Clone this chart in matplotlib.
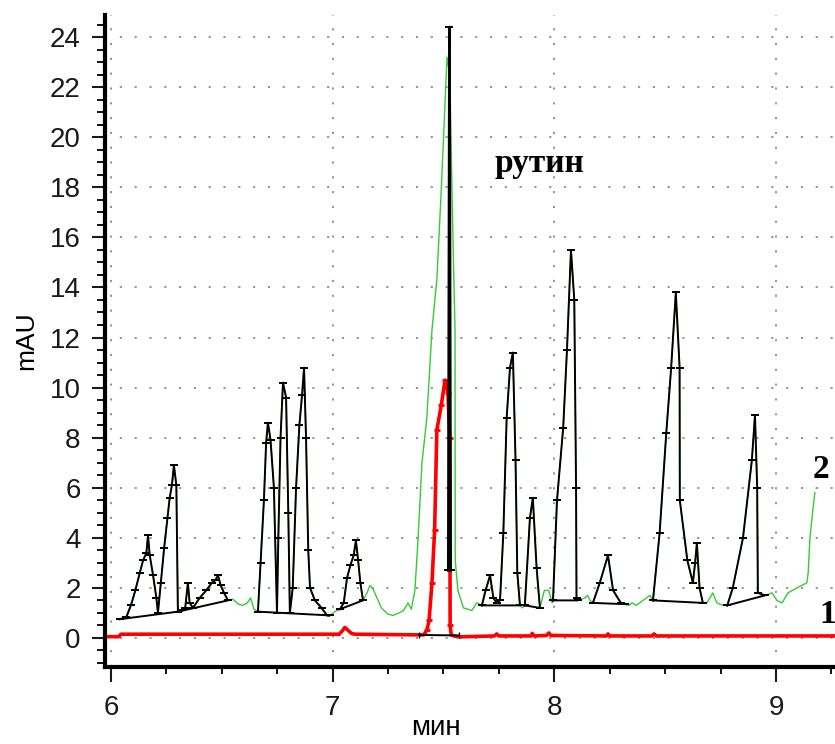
import numpy as np
import matplotlib.pyplot as plt
from matplotlib.ticker import MultipleLocator

# хроматограмма 2 (зелёная): время, мин / сигнал, mAU
t2 = [6.041, 6.07, 6.09, 6.11, 6.13, 6.145, 6.16, 6.167, 6.175, 6.19, 6.205, 6.212,
      6.225, 6.24, 6.255, 6.265, 6.275, 6.284, 6.295, 6.302, 6.32, 6.335, 6.347, 6.355,
      6.37, 6.40, 6.43, 6.455, 6.47, 6.483, 6.495, 6.51, 6.528, 6.55, 6.575, 6.595,
      6.615, 6.63, 6.645, 6.663, 6.675, 6.69, 6.70, 6.708, 6.72, 6.735, 6.749, 6.755,
      6.765, 6.776, 6.79, 6.80, 6.807, 6.82, 6.835, 6.85, 6.862, 6.871, 6.88, 6.89,
      6.898, 6.92, 6.95, 6.975, 6.988, 7.01, 7.033, 7.05, 7.065, 7.08, 7.095, 7.105,
      7.115, 7.125, 7.137, 7.155, 7.168, 7.18, 7.20, 7.22, 7.25, 7.272, 7.30, 7.32,
      7.34, 7.355, 7.371, 7.385, 7.403, 7.425, 7.448, 7.47, 7.49, 7.505, 7.516, 7.528,
      7.545, 7.552, 7.553, 7.565, 7.59, 7.628, 7.65, 7.673, 7.69, 7.71, 7.725, 7.74,
      7.755, 7.77, 7.785, 7.80, 7.813, 7.825, 7.833, 7.845, 7.855, 7.867, 7.89, 7.903,
      7.92, 7.935, 7.955, 7.975, 7.99, 7.994, 8.012, 8.04, 8.057, 8.075, 8.09, 8.098,
      8.10, 8.106, 8.138, 8.15, 8.161, 8.174, 8.205, 8.242, 8.265, 8.30, 8.318, 8.335,
      8.35, 8.37, 8.40, 8.431, 8.445, 8.475, 8.505, 8.527, 8.548, 8.565, 8.566, 8.60,
      8.625, 8.635, 8.643, 8.655, 8.67, 8.688, 8.715, 8.733, 8.76, 8.78, 8.805, 8.851,
      8.891, 8.905, 8.915, 8.918, 8.95, 8.982, 9.004, 9.027, 9.054, 9.094, 9.139, 9.145,
      9.153, 9.166, 9.175]
y2 = [0.75, 0.85, 1.3, 1.9, 2.6, 3.1, 3.4, 4.1, 3.3, 2.5, 1.6, 1.0,
      2.2, 3.6, 4.8, 5.6, 6.1, 6.9, 6.1, 1.05, 1.1, 1.2, 2.2, 1.4,
      1.2, 1.6, 1.9, 2.2, 2.3, 2.5, 2.1, 1.8, 1.5, 1.55, 1.35, 1.3,
      1.4, 1.6, 1.15, 1.05, 3.0, 5.5, 7.8, 8.6, 7.9, 6.0, 1.0, 4.0,
      8.0, 10.2, 9.6, 5.0, 1.0, 2.0, 6.0, 8.5, 9.7, 10.8, 8.0, 3.5,
      2.0, 1.5, 1.2, 0.9, 0.9, 1.05, 1.15, 1.4, 2.4, 2.9, 3.3, 3.9,
      3.1, 2.2, 1.5, 1.8, 2.1, 2.0, 1.6, 1.2, 0.95, 0.9, 1.0, 1.1,
      1.4, 1.15, 1.9, 3.9, 7.0, 8.8, 12.3, 14.3, 17.9, 21.0, 23.2, 22.5,
      15.0, 12.3, 3.1, 1.9, 1.2, 1.1, 1.4, 1.3, 1.9, 2.5, 1.6, 1.4,
      1.5, 4.2, 8.8, 10.8, 11.4, 7.1, 2.6, 1.3, 1.2, 1.3, 4.8, 5.6,
      2.8, 1.2, 1.9, 1.9, 1.4, 1.5, 5.5, 8.4, 11.5, 15.5, 13.5, 6.0,
      1.6, 1.5, 1.6, 1.7, 1.5, 1.4, 2.2, 3.3, 1.9, 1.4, 1.35, 1.3,
      1.4, 1.3, 1.5, 1.7, 1.5, 4.2, 8.2, 10.8, 13.8, 10.8, 5.5, 3.1,
      2.2, 3.0, 3.8, 2.0, 1.4, 1.4, 1.8, 1.4, 1.3, 1.3, 2.0, 4.0,
      7.1, 8.9, 6.0, 1.8, 1.7, 1.8, 1.5, 1.4, 1.8, 2.0, 2.2, 2.6,
      4.0, 5.1, 5.8]

# хроматограмма 1 (красная)
t1 = [5.99, 6.035, 6.045, 7.03, 7.045, 7.055, 7.07, 7.085, 7.10, 7.41, 7.425,
      7.435, 7.448, 7.46, 7.47, 7.49, 7.507, 7.52, 7.528, 7.53, 7.535, 7.56, 7.60,
      7.73, 7.74, 7.75, 7.895, 7.90, 7.91, 7.965, 7.975, 7.985, 8.235, 8.242, 8.25,
      8.44, 8.45, 8.46, 9.3]
y1 = [0.05, 0.05, 0.15, 0.15, 0.3, 0.42, 0.3, 0.18, 0.15, 0.12, 0.3,
      0.7, 2.2, 4.3, 8.3, 9.3, 10.3, 9.8, 8.0, 0.5, 0.12, 0.05, 0.05,
      0.08, 0.16, 0.08, 0.08, 0.18, 0.08, 0.1, 0.2, 0.1, 0.08, 0.16, 0.08,
      0.08, 0.16, 0.08, 0.08]

# окна интегрирования пиков на хроматограмме 2, мин
peak_start = [6.041, 6.302, 6.663, 7.033, 7.673, 7.867, 7.994, 8.174, 8.445, 8.78]
peak_end = [6.302, 6.528, 6.988, 7.137, 7.845, 7.935, 8.106, 8.318, 8.67, 8.95]

# отметка пика рутина
rutin_t = [7.522, 7.527, 7.532]
rutin_y = [2.7, 24.4, 2.7]

# базовая линия пика рутина на хроматограмме 1
base1_t = [7.39, 7.57]
base1_y = [0.12, 0.10]

plt.rcParams['font.family'] = ['Liberation Sans', 'DejaVu Sans']

fig = plt.figure(figsize=(8.35, 7.44), dpi=100)
ax = fig.add_axes([0.1257, 0.1035, 0.8743, 0.8763])

t2a = np.array(t2)
y2a = np.array(y2)

ax.plot(t2a, y2a, color='#33cc33', lw=1.0, zorder=2)
ax.plot(t1, y1, color='#ff0000', lw=2.6, zorder=3, marker='_', ms=5, mew=2,
        markevery=list(range(10, 20)))

# контуры интегрированных пиков
for a, b in zip(peak_start, peak_end):
    m = (t2a >= a - 1e-9) & (t2a <= b + 1e-9)
    xs = np.r_[t2a[m], t2a[m][0]]
    ys = np.r_[y2a[m], y2a[m][0]]
    ax.plot(xs, ys, color='black', lw=1.4, marker='_', ms=6, mew=1.4, zorder=4)

ax.plot(rutin_t, rutin_y, color='black', lw=2.0, marker='_', ms=6, mew=1.4, zorder=4)
ax.plot(base1_t, base1_y, color='black', lw=1.4, marker='|', ms=4, zorder=4)

ax.set_xlim(5.973, 9.266)
ax.set_ylim(-1.16, 24.88)

ax.xaxis.set_major_locator(MultipleLocator(1))
ax.xaxis.set_minor_locator(MultipleLocator(0.25))
ax.yaxis.set_major_locator(MultipleLocator(2))
ax.yaxis.set_minor_locator(MultipleLocator(0.5))

ax.tick_params(axis='both', which='major', labelsize=20, colors='#1a1a1a', width=1.5)
ax.tick_params(axis='y', which='major', length=9.5, pad=8)
ax.tick_params(axis='y', which='minor', length=5.5, width=1.3)
ax.tick_params(axis='x', which='major', length=11, pad=9)
ax.tick_params(axis='x', which='minor', length=5, width=1.3)

ax.grid(True, which='major', color='#8c8c8c', linestyle=(0, (1.2, 7)), lw=1.3)

for s in ['top', 'right']:
    ax.spines[s].set_visible(False)
for s in ['left', 'bottom']:
    ax.spines[s].set_linewidth(3)

ax.set_ylabel('mAU', fontsize=19, labelpad=8)
fig.text(436 / 835, 9 / 744, 'мин', fontsize=20, ha='center', va='baseline')

ax.text(7.732, 18.6, 'рутин', fontsize=24, fontweight='bold',
        family='Liberation Serif', ha='left', va='baseline')
ax.text(9.203, 6.39, '2', fontsize=24, fontweight='bold',
        family='Liberation Serif', ha='center', va='baseline', clip_on=False)
ax.text(9.234, 0.6, '1', fontsize=24, fontweight='bold',
        family='Liberation Serif', ha='center', va='baseline', clip_on=False)

fig.savefig('out.png', dpi=100)
